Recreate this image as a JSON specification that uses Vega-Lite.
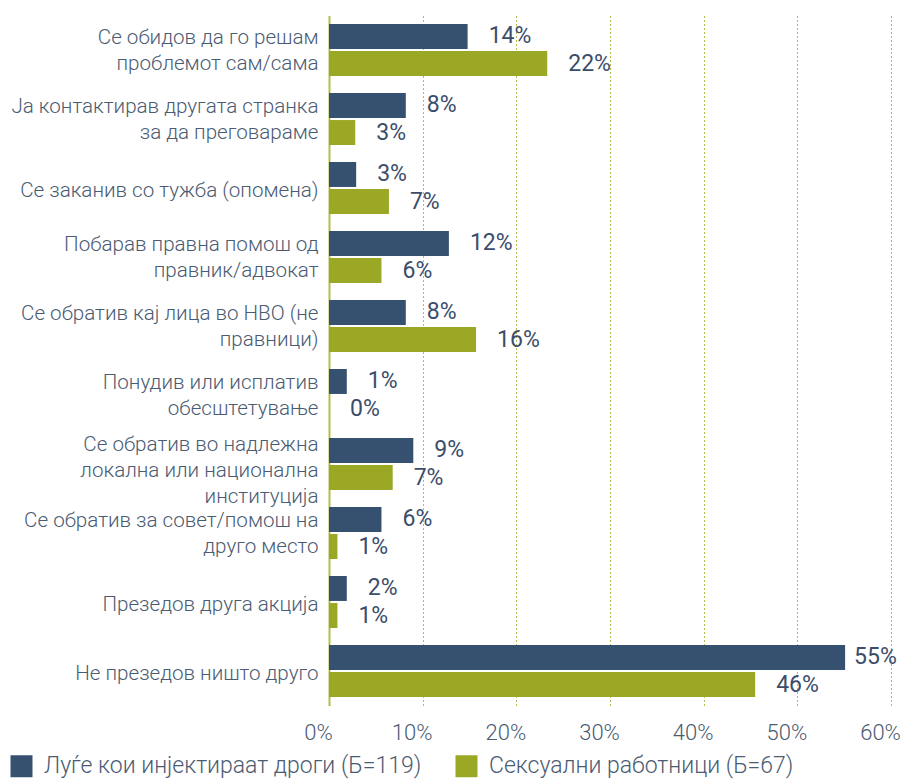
{
  "$schema": "https://vega.github.io/schema/vega-lite/v6.json",
  "width": 562,
  "height": 690,
  "autosize": {"type": "none"},
  "padding": {"left": 329, "top": 15.5, "right": 12, "bottom": 76.5},
  "background": "white",
  "config": {
    "font": "Roboto",
    "view": {"stroke": null}
  },
  "data": {
    "values": [
      {"category": "Се обидов да го решам|проблемот сам/сама", "group": "Луѓе кои инјектираат дроги (Б=119)", "value": 14.8, "label": "14%"},
      {"category": "Се обидов да го решам|проблемот сам/сама", "group": "Сексуални работници (Б=67)", "value": 23.3, "label": "22%"},
      {"category": "Ја контактирав другата странка|за да преговараме", "group": "Луѓе кои инјектираат дроги (Б=119)", "value": 8.2, "label": "8%"},
      {"category": "Ја контактирав другата странка|за да преговараме", "group": "Сексуални работници (Б=67)", "value": 2.8, "label": "3%"},
      {"category": "Се заканив со тужба (опомена)", "group": "Луѓе кои инјектираат дроги (Б=119)", "value": 2.9, "label": "3%"},
      {"category": "Се заканив со тужба (опомена)", "group": "Сексуални работници (Б=67)", "value": 6.4, "label": "7%"},
      {"category": "Побарав правна помош од|правник/адвокат", "group": "Луѓе кои инјектираат дроги (Б=119)", "value": 12.8, "label": "12%"},
      {"category": "Побарав правна помош од|правник/адвокат", "group": "Сексуални работници (Б=67)", "value": 5.6, "label": "6%"},
      {"category": "Се обратив кај лица во НВО (не|правници)", "group": "Луѓе кои инјектираат дроги (Б=119)", "value": 8.2, "label": "8%"},
      {"category": "Се обратив кај лица во НВО (не|правници)", "group": "Сексуални работници (Б=67)", "value": 15.7, "label": "16%"},
      {"category": "Понудив или исплатив|обесштетување", "group": "Луѓе кои инјектираат дроги (Б=119)", "value": 1.9, "label": "1%"},
      {"category": "Понудив или исплатив|обесштетување", "group": "Сексуални работници (Б=67)", "value": 0, "label": "0%"},
      {"category": "Се обратив во надлежна|локална или национална|институција", "group": "Луѓе кои инјектираат дроги (Б=119)", "value": 9.0, "label": "9%"},
      {"category": "Се обратив во надлежна|локална или национална|институција", "group": "Сексуални работници (Б=67)", "value": 6.8, "label": "7%"},
      {"category": "Се обратив за совет/помош на|друго место", "group": "Луѓе кои инјектираат дроги (Б=119)", "value": 5.6, "label": "6%"},
      {"category": "Се обратив за совет/помош на|друго место", "group": "Сексуални работници (Б=67)", "value": 0.9, "label": "1%"},
      {"category": "Презедов друга акција", "group": "Луѓе кои инјектираат дроги (Б=119)", "value": 1.9, "label": "2%"},
      {"category": "Презедов друга акција", "group": "Сексуални работници (Б=67)", "value": 0.9, "label": "1%"},
      {"category": "Не презедов ништо друго", "group": "Луѓе кои инјектираат дроги (Б=119)", "value": 55.1, "label": "55%"},
      {"category": "Не презедов ништо друго", "group": "Сексуални работници (Б=67)", "value": 45.5, "label": "46%"}
    ]
  },
  "encoding": {
    "y": {
      "field": "category",
      "type": "nominal",
      "sort": null,
      "scale": {"paddingInner": 0.246, "paddingOuter": 0.123},
      "axis": {
        "title": null,
        "domain": true,
        "domainColor": "#b4bc4f",
        "domainWidth": 2,
        "ticks": false,
        "labelExpr": "split(datum.label, '|')",
        "labelFont": "Roboto",
        "labelFontSize": 20.6,
        "labelFontWeight": 300,
        "labelColor": "#4a5b72",
        "labelLineHeight": 26,
        "labelPadding": 11,
        "labelLimit": 400,
        "labelOffset": {
          "condition": [
            {"test": "length(split(datum.label, '|')) == 3", "value": -19},
            {"test": "length(split(datum.label, '|')) == 2", "value": -12}
          ],
          "value": 3
        }
      }
    },
    "yOffset": {
      "field": "group",
      "type": "nominal",
      "sort": null,
      "scale": {"paddingInner": 0.077, "paddingOuter": 0}
    },
    "x": {
      "field": "value",
      "type": "quantitative",
      "scale": {"domain": [0, 60], "nice": false},
      "axis": {
        "title": null,
        "values": [0, 10, 20, 30, 40, 50, 60],
        "labelExpr": "datum.value + '%'",
        "labelFlush": false,
        "domain": false,
        "ticks": false,
        "grid": true,
        "gridColor": "#b4bc4f",
        "gridDash": [2, 2],
        "gridWidth": 1,
        "labelFont": "Roboto",
        "labelFontSize": 22,
        "labelFontWeight": 300,
        "labelColor": "#4a5b72",
        "labelPadding": 17,
        "labelOffset": -11
      }
    }
  },
  "layer": [
    {
      "mark": {"type": "bar"},
      "encoding": {
        "color": {
          "field": "group",
          "type": "nominal",
          "sort": null,
          "scale": {"range": ["#36506f", "#9aa826"]},
          "legend": {
            "title": null,
            "orient": "none",
            "legendX": -319,
            "legendY": 739,
            "direction": "horizontal",
            "symbolType": "square",
            "symbolSize": 484,
            "symbolStrokeWidth": 0,
            "labelFont": "Roboto",
            "labelFontSize": 23,
            "labelFontWeight": 300,
            "labelColor": "#4a5b72",
            "labelOffset": 11,
            "labelLimit": 500,
            "columnPadding": 33
          }
        }
      }
    },
    {
      "transform": [{"filter": "datum.value < 50"}],
      "mark": {"type": "text", "align": "left", "baseline": "middle", "dx": 21, "font": "Roboto", "fontSize": 23, "fontWeight": 400, "color": "#3b4d6a"},
      "encoding": {"text": {"field": "label"}}
    },
    {
      "transform": [{"filter": "datum.value >= 50"}],
      "mark": {"type": "text", "align": "left", "baseline": "middle", "dx": 9, "font": "Roboto", "fontSize": 23, "fontWeight": 400, "color": "#3b4d6a"},
      "encoding": {"text": {"field": "label"}}
    }
  ]
}
